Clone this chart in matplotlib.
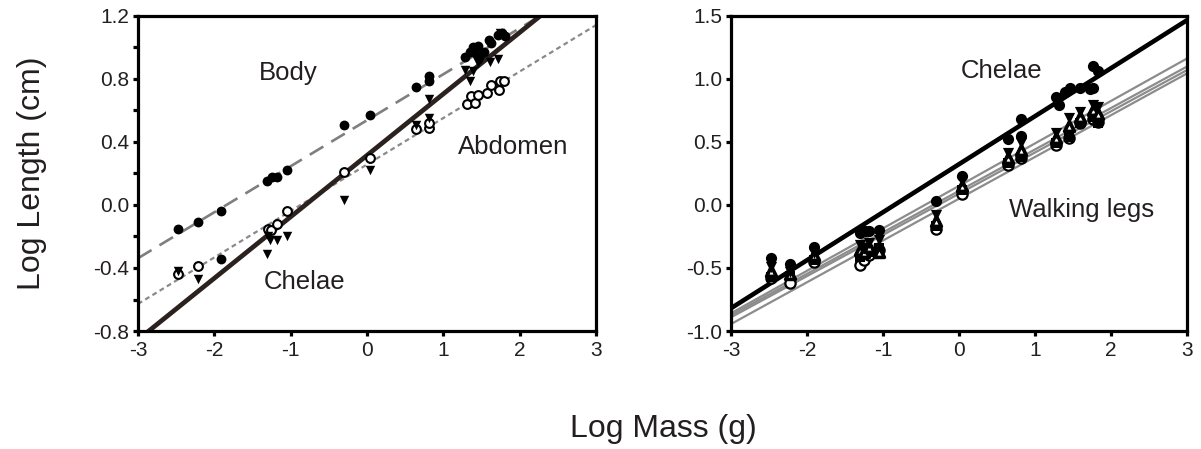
import matplotlib
matplotlib.use("Agg")
import matplotlib.pyplot as plt
from matplotlib.ticker import MultipleLocator

plt.rcParams['font.family'] = ['Liberation Sans', 'DejaVu Sans']
plt.rcParams['axes.unicode_minus'] = False

# --- panel izquierdo: cuerpo, abdomen, quelas ---
body_x = [-2.47, -2.22, -1.91, -1.91, -1.31, -1.25, -1.18, -1.05, -0.30, 0.04, 0.64, 0.81, 0.81,
          1.28, 1.35, 1.39, 1.44, 1.46, 1.53, 1.60, 1.63, 1.72, 1.77, 1.81]
body_y = [-0.15, -0.11, -0.04, -0.34, 0.15, 0.18, 0.18, 0.22, 0.51, 0.57, 0.75, 0.82, 0.79,
          0.94, 0.97, 1.00, 0.95, 1.01, 0.97, 1.05, 1.03, 1.08, 1.09, 1.07]

abd_x = [-2.47, -2.22, -1.30, -1.26, -1.18, -1.05, -0.30, 0.04, 0.64, 0.81, 0.81,
         1.31, 1.36, 1.42, 1.45, 1.57, 1.62, 1.73, 1.74, 1.79]
abd_y = [-0.44, -0.39, -0.15, -0.16, -0.12, -0.04, 0.21, 0.30, 0.48, 0.49, 0.52,
         0.64, 0.69, 0.65, 0.70, 0.71, 0.76, 0.73, 0.79, 0.79]

chel_x = [-2.47, -2.22, -1.31, -1.30, -1.27, -1.18, -1.05, -0.30, 0.04, 0.64, 0.81, 0.81,
          1.28, 1.35, 1.39, 1.46, 1.50, 1.61, 1.72, 1.74]
chel_y = [-0.42, -0.47, -0.31, -0.20, -0.22, -0.22, -0.20, 0.03, 0.22, 0.51, 0.55, 0.67,
          0.86, 0.79, 0.85, 0.90, 0.93, 0.91, 0.93, 1.09]

# rectas de ajuste (intercepto, pendiente)
body_fit = (0.538, 0.292)
abd_fit = (0.257, 0.295)
chel_fit = (0.315, 0.390)

# --- panel derecho: quelas y patas caminadoras ---
chel_r_x = [-2.47, -2.22, -1.91, -1.30, -1.24, -1.18, -1.05, -0.30, 0.04, 0.64, 0.81, 0.81,
            1.28, 1.31, 1.40, 1.46, 1.59, 1.72, 1.76, 1.76, 1.83]
chel_r_y = [-0.42, -0.47, -0.33, -0.22, -0.21, -0.21, -0.20, 0.03, 0.23, 0.52, 0.55, 0.68,
            0.86, 0.79, 0.90, 0.93, 0.93, 0.92, 1.10, 0.93, 1.06]

leg_x = [-2.47, -2.22, -1.91, -1.30, -1.25, -1.18, -1.05, -0.30, 0.04, 0.64, 0.81, 1.28, 1.45, 1.59, 1.76, 1.83]
leg1_y = [-0.49, -0.53, -0.38, -0.32, -0.34, -0.30, -0.28, -0.08, 0.19, 0.41, 0.49, 0.57, 0.69, 0.74, 0.79, 0.78]
leg2_y = [-0.52, -0.55, -0.40, -0.36, -0.37, -0.33, -0.37, -0.13, 0.15, 0.37, 0.44, 0.53, 0.63, 0.70, 0.75, 0.72]
leg3_y = [-0.57, -0.56, -0.44, -0.41, -0.40, -0.37, -0.34, -0.17, 0.12, 0.33, 0.38, 0.49, 0.54, 0.65, 0.70, 0.65]
leg4_y = [-0.58, -0.62, -0.45, -0.48, -0.44, -0.40, -0.36, -0.19, 0.09, 0.32, 0.37, 0.48, 0.53, 0.65, 0.68, 0.66]

chel_r_fit = (0.324, 0.381)
leg_fits = [(0.152, 0.337), (0.112, 0.329), (0.090, 0.327), (0.050, 0.3315)]

ink = '#231f20'

fig = plt.figure(figsize=(12.01, 4.49), dpi=100)
ax1 = fig.add_axes([0.1149, 0.2628, 0.3813, 0.7016])
ax2 = fig.add_axes([0.6087, 0.2628, 0.3797, 0.7016])

# 1. panel izquierdo
ax1.axline((0, body_fit[0]), slope=body_fit[1], color='#7f7f7f', lw=1.9, dashes=(6, 3.5), zorder=1)
ax1.axline((0, abd_fit[0]), slope=abd_fit[1], color='#8a8a8a', lw=1.6, dashes=(2.2, 1.6), zorder=1)
ax1.axline((0, chel_fit[0]), slope=chel_fit[1], color='#2b2220', lw=3.4, zorder=2)

ax1.scatter(body_x, body_y, s=50, color='black', zorder=3, linewidths=0)
ax1.scatter(abd_x, abd_y, s=40, facecolor='white', edgecolor='black', linewidths=1.5, zorder=4)
ax1.scatter(chel_x, chel_y, s=46, marker='v', color='black', zorder=4, linewidths=0)

ax1.text(-1.03, 0.84, 'Body', fontsize=18.5, color=ink, ha='center', va='center')
ax1.text(1.91, 0.37, 'Abdomen', fontsize=18.5, color=ink, ha='center', va='center')
ax1.text(-0.82, -0.49, 'Chelae', fontsize=18.5, color=ink, ha='center', va='center')

ax1.set_xlim(-3, 3)
ax1.set_ylim(-0.8, 1.2)
ax1.xaxis.set_major_locator(MultipleLocator(1))
ax1.yaxis.set_major_locator(MultipleLocator(0.4))
ax1.yaxis.set_minor_locator(MultipleLocator(0.2))
ax1.set_yticklabels([f'{v:.1f}' for v in ax1.get_yticks()])

# 2. panel derecho
for a, b in leg_fits:
    ax2.axline((0, a), slope=b, color='#8c8c8c', lw=1.6, zorder=1)
ax2.axline((0, chel_r_fit[0]), slope=chel_r_fit[1], color='black', lw=3.3, zorder=2)

ax2.scatter(leg_x, leg4_y, s=55, facecolor='white', edgecolor='black', linewidths=1.6, zorder=3)
ax2.scatter(leg_x, leg3_y, s=55, marker='s', color='black', linewidths=0, zorder=4)
ax2.scatter(leg_x, leg2_y, s=50, marker='^', facecolor='white', edgecolor='black', linewidths=2.6, zorder=5)
ax2.scatter(leg_x, leg1_y, s=65, marker='v', color='black', linewidths=0, zorder=6)
ax2.scatter(chel_r_x, chel_r_y, s=65, color='black', linewidths=0, zorder=7)

ax2.text(0.56, 1.06, 'Chelae', fontsize=18.5, color=ink, ha='center', va='center')
ax2.text(1.61, -0.04, 'Walking legs', fontsize=18.5, color=ink, ha='center', va='center')

ax2.set_xlim(-3, 3)
ax2.set_ylim(-1.0, 1.5)
ax2.xaxis.set_major_locator(MultipleLocator(1))
ax2.yaxis.set_major_locator(MultipleLocator(0.5))
ax2.set_yticklabels([f'{v:.1f}' for v in ax2.get_yticks()])

for ax in (ax1, ax2):
    for sp in ax.spines.values():
        sp.set_linewidth(2.3)
        sp.set_color('black')
    ax.tick_params(which='both', direction='out', length=3.5, width=2.3,
                   labelsize=15, labelcolor=ink)
    ax.tick_params(axis='x', pad=4)
    ax.tick_params(axis='y', pad=3)

# 3. etiquetas de ejes
fig.text(0.027, 0.614, 'Log Length (cm)', rotation=90, fontsize=23, color=ink,
         ha='center', va='center')
fig.text(0.552, 0.027, 'Log Mass (g)', fontsize=23, color=ink, ha='center', va='baseline')

fig.savefig('out.png', dpi=100)
